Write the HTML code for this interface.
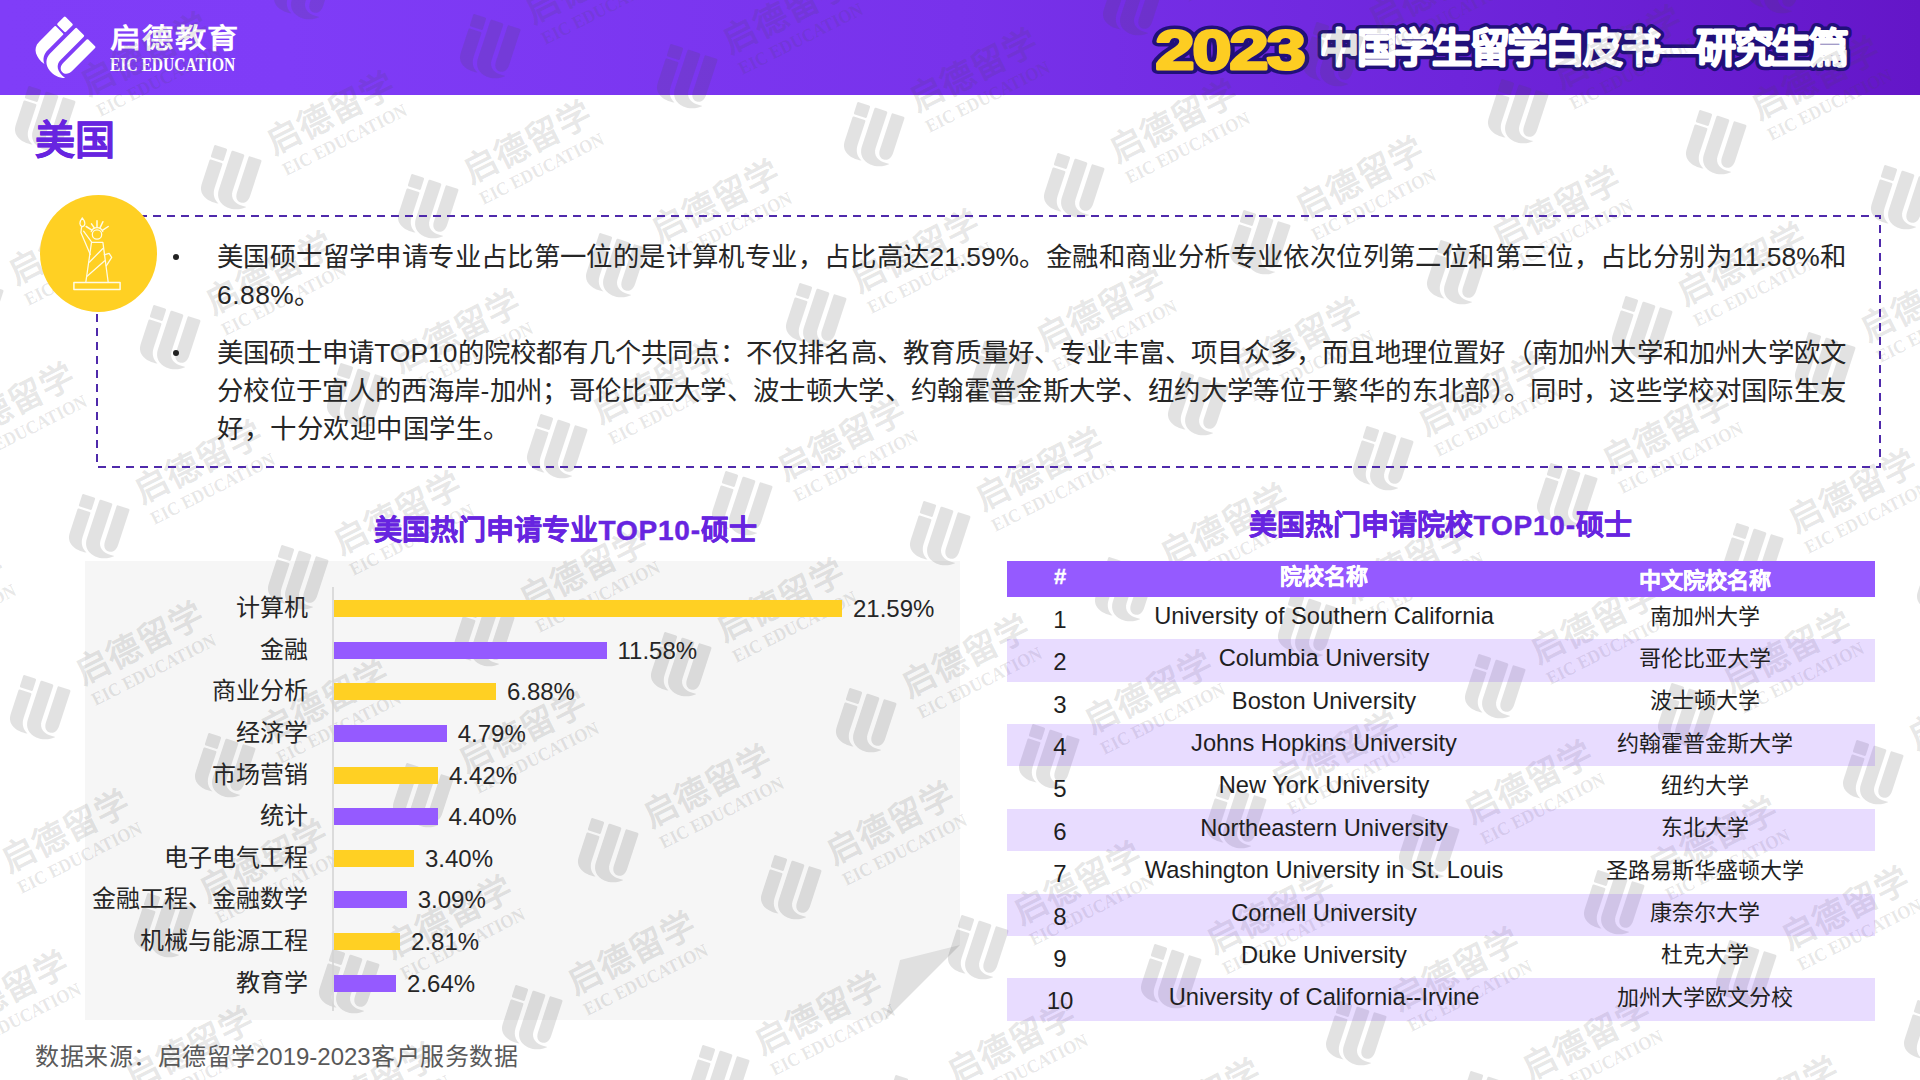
<!DOCTYPE html>
<html lang="zh-CN"><head><meta charset="utf-8"><title>2023中国学生留学白皮书—研究生篇 · 美国</title>
<style>
html,body{margin:0;padding:0}
body{width:1920px;height:1080px;position:relative;overflow:hidden;background:#fff;
 font-family:"Liberation Sans",sans-serif;color:#262626;-webkit-font-smoothing:antialiased}
.abs{position:absolute;white-space:nowrap}
.j{position:absolute;white-space:nowrap;text-align:justify;text-align-last:justify}
#hdr{position:absolute;left:0;top:0;width:1920px;height:95px;
 background:linear-gradient(90deg,#803df8 0%,#7f3cf7 15%,#7832eb 50%,#6e25db 76%,#6416c8 100%)}
#brand-cn{left:110px;top:19.3px;width:110.8px;font-size:27px;line-height:40px;font-weight:bold;color:#fff;transform:scaleX(1.155);transform-origin:0 50%}
#brand-en{left:110px;top:53.5px;font-family:"Liberation Serif",serif;font-size:18.6px;line-height:22px;font-weight:bold;color:#fff;transform:scaleX(.835);transform-origin:0 50%}
#h1{left:35px;top:115px;width:80px;font-size:40px;line-height:50px;font-weight:bold;color:#6724e0;-webkit-text-stroke:.4px #6724e0}
#box{position:absolute;left:96px;top:215px;width:1784px;height:252px}
#circle{position:absolute;left:40px;top:195px;width:117px;height:117px;border-radius:50%;background:#ffd023}
.ln{position:absolute;left:217px;width:1629px;height:38px;font-size:26.4px;line-height:38px;color:#262626;white-space:nowrap;letter-spacing:.5px}
.jl{text-align:justify;text-align-last:justify;letter-spacing:0}
.bul{position:absolute;left:173px;width:6px;height:6px;border-radius:50%;background:#222}
.ttl b{font-weight:bold;letter-spacing:.8px}
.ttl{width:383px;font-size:28px;line-height:34px;font-weight:bold;color:#6724e0;-webkit-text-stroke:.45px #6724e0}
.cat{font-size:24px;line-height:30px;color:#262626}
.bar{position:absolute;left:334px;height:17px}
.val{position:absolute;font-size:24px;line-height:30px;white-space:nowrap;color:#262626}
.row{position:absolute;left:1007px;width:868px;height:42.4px}
.c{position:absolute;font-size:24px;line-height:30px;white-space:nowrap;text-align:center;color:#1f1f1f}
.c.en{font-size:23.7px}
.cn{font-size:22px;line-height:30px;color:#1f1f1f}
.th{font-size:22px;line-height:28px;font-weight:bold;color:#fff;-webkit-text-stroke:.4px #fff}
#src{left:35px;top:1042px;width:483px;font-size:24px;line-height:30px;color:#595959}
#wm{position:absolute;left:0;top:0;width:1920px;height:1080px;overflow:hidden;pointer-events:none}
.u{position:absolute;width:0;height:0;transform:rotate(-26.8deg);transform-origin:0 0;color:rgba(72,72,72,.16)}
.u svg{position:absolute;overflow:visible}
.u .a,.u .b{color:rgba(72,72,72,.135)}
.u .a{left:48px;top:-5px;width:138.6px;font-size:34px;line-height:40px;font-weight:bold}
.u .b{position:absolute;left:50px;top:34px;font-family:"Liberation Serif",serif;font-size:18.5px;line-height:22px;font-weight:bold;white-space:nowrap;transform:scaleX(.915);transform-origin:0 50%}
</style></head><body>
<svg width="0" height="0" style="position:absolute"><defs><g id="eic"><rect x="0" y="0" width="12" height="11.5" rx="1.3"/><path d="M0,14.5 Q0,13.5 1,13.5 H11 Q12,13.5 12,14.5 V36 C12,42 14.5,46 19.5,48.4 C9,49.8 0,46 0,36.5 Z"/><path d="M16,1.2 Q16,0 17.2,0 H26.8 Q28,0 28,1.2 V34 C28,40.5 33,45 44,43.6 C39.5,48 33.5,49.8 28,49.2 C20.5,48.4 16,43.5 16,36.5 Z"/><path d="M32,1.2 Q32,0 33.2,0 H42.8 Q44,0 44,1.2 V33 C44,38.6 41.2,41.4 38,41.4 C34.4,41.4 32,38.6 32,34 Z"/></g></defs></svg>
<div id="hdr"></div>
<svg class="abs" style="left:0;top:0;overflow:visible" width="120" height="95"><g transform="translate(65,24.4) rotate(45) scale(1.0) translate(-6,-5.75)" fill="#fff"><use href="#eic"/></g></svg>
<div id="brand-cn" class="j">启德教育</div>
<div id="brand-en" class="abs">EIC EDUCATION</div>
<svg class="abs" style="left:1130px;top:0;overflow:visible" width="790" height="95"><g font-family="Liberation Sans, sans-serif" font-weight="bold" stroke-linejoin="round"><g transform="translate(25.5,69.4) scale(1.25,1)"><text x="0" y="0" font-size="56" fill="#21107a" stroke="#21107a" stroke-width="10" letter-spacing="-1.5">2023</text><text x="0" y="0" font-size="56" fill="#fdcd22" stroke="#fdcd22" stroke-width="3" letter-spacing="-1.5">2023</text></g><text x="189" y="61.6" font-size="40" textLength="530" lengthAdjust="spacing" fill="#21107a" stroke="#21107a" stroke-width="9">中国学生留学白皮书—研究生篇</text><text x="189" y="61.6" font-size="40" textLength="530" lengthAdjust="spacing" fill="#fff" stroke="#fff" stroke-width="2">中国学生留学白皮书—研究生篇</text></g></svg>
<div id="wm">
<div class="u" style="left:33.1px;top:93.5px"><svg width="1" height="1"><g transform="rotate(45) scale(1.13) translate(-6,-5.75)" fill="currentColor"><use href="#eic"/></g></svg><div class="a j">启德留学</div><div class="b">EIC EDUCATION</div></div>
<div class="u" style="left:291.7px;top:-37.1px"><svg width="1" height="1"><g transform="rotate(45) scale(1.13) translate(-6,-5.75)" fill="currentColor"><use href="#eic"/></g></svg><div class="a j">启德留学</div><div class="b">EIC EDUCATION</div></div>
<div class="u" style="left:-39.3px;top:283.1px"><svg width="1" height="1"><g transform="rotate(45) scale(1.13) translate(-6,-5.75)" fill="currentColor"><use href="#eic"/></g></svg><div class="a j">启德留学</div><div class="b">EIC EDUCATION</div></div>
<div class="u" style="left:219.3px;top:152.5px"><svg width="1" height="1"><g transform="rotate(45) scale(1.13) translate(-6,-5.75)" fill="currentColor"><use href="#eic"/></g></svg><div class="a j">启德留学</div><div class="b">EIC EDUCATION</div></div>
<div class="u" style="left:477.9px;top:21.9px"><svg width="1" height="1"><g transform="rotate(45) scale(1.13) translate(-6,-5.75)" fill="currentColor"><use href="#eic"/></g></svg><div class="a j">启德留学</div><div class="b">EIC EDUCATION</div></div>
<div class="u" style="left:-100.8px;top:443.6px"><svg width="1" height="1"><g transform="rotate(45) scale(1.13) translate(-6,-5.75)" fill="currentColor"><use href="#eic"/></g></svg><div class="a j">启德留学</div><div class="b">EIC EDUCATION</div></div>
<div class="u" style="left:157.8px;top:313.0px"><svg width="1" height="1"><g transform="rotate(45) scale(1.13) translate(-6,-5.75)" fill="currentColor"><use href="#eic"/></g></svg><div class="a j">启德留学</div><div class="b">EIC EDUCATION</div></div>
<div class="u" style="left:416.4px;top:182.3px"><svg width="1" height="1"><g transform="rotate(45) scale(1.13) translate(-6,-5.75)" fill="currentColor"><use href="#eic"/></g></svg><div class="a j">启德留学</div><div class="b">EIC EDUCATION</div></div>
<div class="u" style="left:675.1px;top:51.7px"><svg width="1" height="1"><g transform="rotate(45) scale(1.13) translate(-6,-5.75)" fill="currentColor"><use href="#eic"/></g></svg><div class="a j">启德留学</div><div class="b">EIC EDUCATION</div></div>
<div class="u" style="left:-172.1px;top:632.5px"><svg width="1" height="1"><g transform="rotate(45) scale(1.13) translate(-6,-5.75)" fill="currentColor"><use href="#eic"/></g></svg><div class="a j">启德留学</div><div class="b">EIC EDUCATION</div></div>
<div class="u" style="left:86.5px;top:501.9px"><svg width="1" height="1"><g transform="rotate(45) scale(1.13) translate(-6,-5.75)" fill="currentColor"><use href="#eic"/></g></svg><div class="a j">启德留学</div><div class="b">EIC EDUCATION</div></div>
<div class="u" style="left:345.2px;top:371.3px"><svg width="1" height="1"><g transform="rotate(45) scale(1.13) translate(-6,-5.75)" fill="currentColor"><use href="#eic"/></g></svg><div class="a j">启德留学</div><div class="b">EIC EDUCATION</div></div>
<div class="u" style="left:603.8px;top:240.6px"><svg width="1" height="1"><g transform="rotate(45) scale(1.13) translate(-6,-5.75)" fill="currentColor"><use href="#eic"/></g></svg><div class="a j">启德留学</div><div class="b">EIC EDUCATION</div></div>
<div class="u" style="left:862.4px;top:110.0px"><svg width="1" height="1"><g transform="rotate(45) scale(1.13) translate(-6,-5.75)" fill="currentColor"><use href="#eic"/></g></svg><div class="a j">启德留学</div><div class="b">EIC EDUCATION</div></div>
<div class="u" style="left:1121.0px;top:-20.7px"><svg width="1" height="1"><g transform="rotate(45) scale(1.13) translate(-6,-5.75)" fill="currentColor"><use href="#eic"/></g></svg><div class="a j">启德留学</div><div class="b">EIC EDUCATION</div></div>
<div class="u" style="left:27.8px;top:683.3px"><svg width="1" height="1"><g transform="rotate(45) scale(1.13) translate(-6,-5.75)" fill="currentColor"><use href="#eic"/></g></svg><div class="a j">启德留学</div><div class="b">EIC EDUCATION</div></div>
<div class="u" style="left:286.4px;top:552.6px"><svg width="1" height="1"><g transform="rotate(45) scale(1.13) translate(-6,-5.75)" fill="currentColor"><use href="#eic"/></g></svg><div class="a j">启德留学</div><div class="b">EIC EDUCATION</div></div>
<div class="u" style="left:545.1px;top:422.0px"><svg width="1" height="1"><g transform="rotate(45) scale(1.13) translate(-6,-5.75)" fill="currentColor"><use href="#eic"/></g></svg><div class="a j">启德留学</div><div class="b">EIC EDUCATION</div></div>
<div class="u" style="left:803.7px;top:291.3px"><svg width="1" height="1"><g transform="rotate(45) scale(1.13) translate(-6,-5.75)" fill="currentColor"><use href="#eic"/></g></svg><div class="a j">启德留学</div><div class="b">EIC EDUCATION</div></div>
<div class="u" style="left:1062.3px;top:160.7px"><svg width="1" height="1"><g transform="rotate(45) scale(1.13) translate(-6,-5.75)" fill="currentColor"><use href="#eic"/></g></svg><div class="a j">启德留学</div><div class="b">EIC EDUCATION</div></div>
<div class="u" style="left:1320.9px;top:30.0px"><svg width="1" height="1"><g transform="rotate(45) scale(1.13) translate(-6,-5.75)" fill="currentColor"><use href="#eic"/></g></svg><div class="a j">启德留学</div><div class="b">EIC EDUCATION</div></div>
<div class="u" style="left:-45.6px;top:871.1px"><svg width="1" height="1"><g transform="rotate(45) scale(1.13) translate(-6,-5.75)" fill="currentColor"><use href="#eic"/></g></svg><div class="a j">启德留学</div><div class="b">EIC EDUCATION</div></div>
<div class="u" style="left:213.0px;top:740.5px"><svg width="1" height="1"><g transform="rotate(45) scale(1.13) translate(-6,-5.75)" fill="currentColor"><use href="#eic"/></g></svg><div class="a j">启德留学</div><div class="b">EIC EDUCATION</div></div>
<div class="u" style="left:471.6px;top:609.9px"><svg width="1" height="1"><g transform="rotate(45) scale(1.13) translate(-6,-5.75)" fill="currentColor"><use href="#eic"/></g></svg><div class="a j">启德留学</div><div class="b">EIC EDUCATION</div></div>
<div class="u" style="left:730.3px;top:479.2px"><svg width="1" height="1"><g transform="rotate(45) scale(1.13) translate(-6,-5.75)" fill="currentColor"><use href="#eic"/></g></svg><div class="a j">启德留学</div><div class="b">EIC EDUCATION</div></div>
<div class="u" style="left:988.9px;top:348.6px"><svg width="1" height="1"><g transform="rotate(45) scale(1.13) translate(-6,-5.75)" fill="currentColor"><use href="#eic"/></g></svg><div class="a j">启德留学</div><div class="b">EIC EDUCATION</div></div>
<div class="u" style="left:1247.5px;top:217.9px"><svg width="1" height="1"><g transform="rotate(45) scale(1.13) translate(-6,-5.75)" fill="currentColor"><use href="#eic"/></g></svg><div class="a j">启德留学</div><div class="b">EIC EDUCATION</div></div>
<div class="u" style="left:1506.1px;top:87.3px"><svg width="1" height="1"><g transform="rotate(45) scale(1.13) translate(-6,-5.75)" fill="currentColor"><use href="#eic"/></g></svg><div class="a j">启德留学</div><div class="b">EIC EDUCATION</div></div>
<div class="u" style="left:1764.8px;top:-43.3px"><svg width="1" height="1"><g transform="rotate(45) scale(1.13) translate(-6,-5.75)" fill="currentColor"><use href="#eic"/></g></svg><div class="a j">启德留学</div><div class="b">EIC EDUCATION</div></div>
<div class="u" style="left:-106.8px;top:1032.0px"><svg width="1" height="1"><g transform="rotate(45) scale(1.13) translate(-6,-5.75)" fill="currentColor"><use href="#eic"/></g></svg><div class="a j">启德留学</div><div class="b">EIC EDUCATION</div></div>
<div class="u" style="left:151.9px;top:901.3px"><svg width="1" height="1"><g transform="rotate(45) scale(1.13) translate(-6,-5.75)" fill="currentColor"><use href="#eic"/></g></svg><div class="a j">启德留学</div><div class="b">EIC EDUCATION</div></div>
<div class="u" style="left:410.5px;top:770.7px"><svg width="1" height="1"><g transform="rotate(45) scale(1.13) translate(-6,-5.75)" fill="currentColor"><use href="#eic"/></g></svg><div class="a j">启德留学</div><div class="b">EIC EDUCATION</div></div>
<div class="u" style="left:669.1px;top:640.1px"><svg width="1" height="1"><g transform="rotate(45) scale(1.13) translate(-6,-5.75)" fill="currentColor"><use href="#eic"/></g></svg><div class="a j">启德留学</div><div class="b">EIC EDUCATION</div></div>
<div class="u" style="left:927.7px;top:509.4px"><svg width="1" height="1"><g transform="rotate(45) scale(1.13) translate(-6,-5.75)" fill="currentColor"><use href="#eic"/></g></svg><div class="a j">启德留学</div><div class="b">EIC EDUCATION</div></div>
<div class="u" style="left:1186.4px;top:378.8px"><svg width="1" height="1"><g transform="rotate(45) scale(1.13) translate(-6,-5.75)" fill="currentColor"><use href="#eic"/></g></svg><div class="a j">启德留学</div><div class="b">EIC EDUCATION</div></div>
<div class="u" style="left:1445.0px;top:248.1px"><svg width="1" height="1"><g transform="rotate(45) scale(1.13) translate(-6,-5.75)" fill="currentColor"><use href="#eic"/></g></svg><div class="a j">启德留学</div><div class="b">EIC EDUCATION</div></div>
<div class="u" style="left:1703.6px;top:117.5px"><svg width="1" height="1"><g transform="rotate(45) scale(1.13) translate(-6,-5.75)" fill="currentColor"><use href="#eic"/></g></svg><div class="a j">启德留学</div><div class="b">EIC EDUCATION</div></div>
<div class="u" style="left:78.3px;top:1087.5px"><svg width="1" height="1"><g transform="rotate(45) scale(1.13) translate(-6,-5.75)" fill="currentColor"><use href="#eic"/></g></svg><div class="a j">启德留学</div><div class="b">EIC EDUCATION</div></div>
<div class="u" style="left:336.9px;top:956.9px"><svg width="1" height="1"><g transform="rotate(45) scale(1.13) translate(-6,-5.75)" fill="currentColor"><use href="#eic"/></g></svg><div class="a j">启德留学</div><div class="b">EIC EDUCATION</div></div>
<div class="u" style="left:595.5px;top:826.3px"><svg width="1" height="1"><g transform="rotate(45) scale(1.13) translate(-6,-5.75)" fill="currentColor"><use href="#eic"/></g></svg><div class="a j">启德留学</div><div class="b">EIC EDUCATION</div></div>
<div class="u" style="left:854.1px;top:695.6px"><svg width="1" height="1"><g transform="rotate(45) scale(1.13) translate(-6,-5.75)" fill="currentColor"><use href="#eic"/></g></svg><div class="a j">启德留学</div><div class="b">EIC EDUCATION</div></div>
<div class="u" style="left:1112.8px;top:565.0px"><svg width="1" height="1"><g transform="rotate(45) scale(1.13) translate(-6,-5.75)" fill="currentColor"><use href="#eic"/></g></svg><div class="a j">启德留学</div><div class="b">EIC EDUCATION</div></div>
<div class="u" style="left:1371.4px;top:434.3px"><svg width="1" height="1"><g transform="rotate(45) scale(1.13) translate(-6,-5.75)" fill="currentColor"><use href="#eic"/></g></svg><div class="a j">启德留学</div><div class="b">EIC EDUCATION</div></div>
<div class="u" style="left:1630.0px;top:303.7px"><svg width="1" height="1"><g transform="rotate(45) scale(1.13) translate(-6,-5.75)" fill="currentColor"><use href="#eic"/></g></svg><div class="a j">启德留学</div><div class="b">EIC EDUCATION</div></div>
<div class="u" style="left:1888.6px;top:173.0px"><svg width="1" height="1"><g transform="rotate(45) scale(1.13) translate(-6,-5.75)" fill="currentColor"><use href="#eic"/></g></svg><div class="a j">启德留学</div><div class="b">EIC EDUCATION</div></div>
<div class="u" style="left:261.5px;top:1123.8px"><svg width="1" height="1"><g transform="rotate(45) scale(1.13) translate(-6,-5.75)" fill="currentColor"><use href="#eic"/></g></svg><div class="a j">启德留学</div><div class="b">EIC EDUCATION</div></div>
<div class="u" style="left:520.2px;top:993.1px"><svg width="1" height="1"><g transform="rotate(45) scale(1.13) translate(-6,-5.75)" fill="currentColor"><use href="#eic"/></g></svg><div class="a j">启德留学</div><div class="b">EIC EDUCATION</div></div>
<div class="u" style="left:778.8px;top:862.5px"><svg width="1" height="1"><g transform="rotate(45) scale(1.13) translate(-6,-5.75)" fill="currentColor"><use href="#eic"/></g></svg><div class="a j">启德留学</div><div class="b">EIC EDUCATION</div></div>
<div class="u" style="left:1037.4px;top:731.9px"><svg width="1" height="1"><g transform="rotate(45) scale(1.13) translate(-6,-5.75)" fill="currentColor"><use href="#eic"/></g></svg><div class="a j">启德留学</div><div class="b">EIC EDUCATION</div></div>
<div class="u" style="left:1296.0px;top:601.2px"><svg width="1" height="1"><g transform="rotate(45) scale(1.13) translate(-6,-5.75)" fill="currentColor"><use href="#eic"/></g></svg><div class="a j">启德留学</div><div class="b">EIC EDUCATION</div></div>
<div class="u" style="left:1554.7px;top:470.6px"><svg width="1" height="1"><g transform="rotate(45) scale(1.13) translate(-6,-5.75)" fill="currentColor"><use href="#eic"/></g></svg><div class="a j">启德留学</div><div class="b">EIC EDUCATION</div></div>
<div class="u" style="left:1813.3px;top:339.9px"><svg width="1" height="1"><g transform="rotate(45) scale(1.13) translate(-6,-5.75)" fill="currentColor"><use href="#eic"/></g></svg><div class="a j">启德留学</div><div class="b">EIC EDUCATION</div></div>
<div class="u" style="left:706.9px;top:1053.4px"><svg width="1" height="1"><g transform="rotate(45) scale(1.13) translate(-6,-5.75)" fill="currentColor"><use href="#eic"/></g></svg><div class="a j">启德留学</div><div class="b">EIC EDUCATION</div></div>
<div class="u" style="left:965.5px;top:922.8px"><svg width="1" height="1"><g transform="rotate(45) scale(1.13) translate(-6,-5.75)" fill="currentColor"><use href="#eic"/></g></svg><div class="a j">启德留学</div><div class="b">EIC EDUCATION</div></div>
<div class="u" style="left:1224.2px;top:792.1px"><svg width="1" height="1"><g transform="rotate(45) scale(1.13) translate(-6,-5.75)" fill="currentColor"><use href="#eic"/></g></svg><div class="a j">启德留学</div><div class="b">EIC EDUCATION</div></div>
<div class="u" style="left:1482.8px;top:661.5px"><svg width="1" height="1"><g transform="rotate(45) scale(1.13) translate(-6,-5.75)" fill="currentColor"><use href="#eic"/></g></svg><div class="a j">启德留学</div><div class="b">EIC EDUCATION</div></div>
<div class="u" style="left:1741.4px;top:530.9px"><svg width="1" height="1"><g transform="rotate(45) scale(1.13) translate(-6,-5.75)" fill="currentColor"><use href="#eic"/></g></svg><div class="a j">启德留学</div><div class="b">EIC EDUCATION</div></div>
<div class="u" style="left:899.9px;top:1083.1px"><svg width="1" height="1"><g transform="rotate(45) scale(1.13) translate(-6,-5.75)" fill="currentColor"><use href="#eic"/></g></svg><div class="a j">启德留学</div><div class="b">EIC EDUCATION</div></div>
<div class="u" style="left:1158.6px;top:952.4px"><svg width="1" height="1"><g transform="rotate(45) scale(1.13) translate(-6,-5.75)" fill="currentColor"><use href="#eic"/></g></svg><div class="a j">启德留学</div><div class="b">EIC EDUCATION</div></div>
<div class="u" style="left:1417.2px;top:821.8px"><svg width="1" height="1"><g transform="rotate(45) scale(1.13) translate(-6,-5.75)" fill="currentColor"><use href="#eic"/></g></svg><div class="a j">启德留学</div><div class="b">EIC EDUCATION</div></div>
<div class="u" style="left:1675.8px;top:691.1px"><svg width="1" height="1"><g transform="rotate(45) scale(1.13) translate(-6,-5.75)" fill="currentColor"><use href="#eic"/></g></svg><div class="a j">启德留学</div><div class="b">EIC EDUCATION</div></div>
<div class="u" style="left:1934.5px;top:560.5px"><svg width="1" height="1"><g transform="rotate(45) scale(1.13) translate(-6,-5.75)" fill="currentColor"><use href="#eic"/></g></svg><div class="a j">启德留学</div><div class="b">EIC EDUCATION</div></div>
<div class="u" style="left:1084.9px;top:1139.6px"><svg width="1" height="1"><g transform="rotate(45) scale(1.13) translate(-6,-5.75)" fill="currentColor"><use href="#eic"/></g></svg><div class="a j">启德留学</div><div class="b">EIC EDUCATION</div></div>
<div class="u" style="left:1343.6px;top:1009.0px"><svg width="1" height="1"><g transform="rotate(45) scale(1.13) translate(-6,-5.75)" fill="currentColor"><use href="#eic"/></g></svg><div class="a j">启德留学</div><div class="b">EIC EDUCATION</div></div>
<div class="u" style="left:1602.2px;top:878.4px"><svg width="1" height="1"><g transform="rotate(45) scale(1.13) translate(-6,-5.75)" fill="currentColor"><use href="#eic"/></g></svg><div class="a j">启德留学</div><div class="b">EIC EDUCATION</div></div>
<div class="u" style="left:1860.8px;top:747.7px"><svg width="1" height="1"><g transform="rotate(45) scale(1.13) translate(-6,-5.75)" fill="currentColor"><use href="#eic"/></g></svg><div class="a j">启德留学</div><div class="b">EIC EDUCATION</div></div>
<div class="u" style="left:1474.9px;top:1078.9px"><svg width="1" height="1"><g transform="rotate(45) scale(1.13) translate(-6,-5.75)" fill="currentColor"><use href="#eic"/></g></svg><div class="a j">启德留学</div><div class="b">EIC EDUCATION</div></div>
<div class="u" style="left:1733.5px;top:948.3px"><svg width="1" height="1"><g transform="rotate(45) scale(1.13) translate(-6,-5.75)" fill="currentColor"><use href="#eic"/></g></svg><div class="a j">启德留学</div><div class="b">EIC EDUCATION</div></div>
<div class="u" style="left:1663.2px;top:1138.4px"><svg width="1" height="1"><g transform="rotate(45) scale(1.13) translate(-6,-5.75)" fill="currentColor"><use href="#eic"/></g></svg><div class="a j">启德留学</div><div class="b">EIC EDUCATION</div></div>
<div class="u" style="left:1921.8px;top:1007.7px"><svg width="1" height="1"><g transform="rotate(45) scale(1.13) translate(-6,-5.75)" fill="currentColor"><use href="#eic"/></g></svg><div class="a j">启德留学</div><div class="b">EIC EDUCATION</div></div>
</div>
<div id="h1" class="j">美国</div>
<svg id="box" width="1784" height="252" style="overflow:visible"><rect x="1" y="1" width="1783" height="251" fill="none" stroke="#4f2aab" stroke-width="2" stroke-dasharray="8 6"/></svg>
<div id="circle"></div>
<svg class="abs" style="left:70px;top:214px;overflow:visible" width="56" height="80" fill="none" stroke="#fffbe6" stroke-width="1.25" stroke-linejoin="round" stroke-linecap="round"><rect x="3.9" y="68.6" width="46.2" height="6.9" stroke-width="1.5"/><path d="M15.8,68.4 L21.5,28.4 H32.9 L38.2,68.4"/><circle cx="27" cy="20.5" r="4.7"/><path d="M21.2,17.6 A6.2,6.2 0 0 1 32.8,17.6"/><path d="M21.9,16.1 L16.2,12.5 M24.1,13.6 L21.5,9.9 M27,12.9 V6.8 M30.1,13.6 L32.9,7.7 M32.4,16.4 L38.2,12.5" stroke-width="1.5"/><path d="M11.6,12.8 L10.9,18.6 L20.3,40.4 M13.6,17.2 L21.5,27.8"/><path d="M12.3,12.6 C9.2,11.6 9,8 12.3,3.8 C15.8,8 15.6,11.6 12.3,12.6 Z"/><path d="M19.3,48.2 L32.9,34.5 M17.1,62.2 L34.7,46.8"/><path d="M34.2,40.8 L39.1,39.4 L41.7,43.3 L36.3,51.8"/></svg>
<div class="bul" style="top:254px"></div>
<div class="bul" style="top:350px"></div>
<div class="ln jl" style="top:238px">美国硕士留学申请专业占比第一位的是计算机专业，占比高达21.59%。金融和商业分析专业依次位列第二位和第三位，占比分别为11.58%和</div>
<div class="ln" style="top:276px">6.88%。</div>
<div class="ln jl" style="top:334px">美国硕士申请TOP10的院校都有几个共同点：不仅排名高、教育质量好、专业丰富、项目众多，而且地理位置好（南加州大学和加州大学欧文</div>
<div class="ln jl" style="top:372px">分校位于宜人的西海岸-加州；哥伦比亚大学、波士顿大学、约翰霍普金斯大学、纽约大学等位于繁华的东北部）。同时，这些学校对国际生友</div>
<div class="ln jl" style="top:410px;width:291.5px">好，十分欢迎中国学生。</div>
<div class="ttl j" style="left:374px;top:513.5px">美国热门申请专业<b>TOP10-</b>硕士</div>
<svg class="abs" style="left:85px;top:561px" width="876" height="460"><path d="M0,0 H875 V384 L800,459 H0 Z" fill="rgba(0,0,0,.035)"/><path d="M800,459 L815,399 L875,384 Z" fill="rgba(0,0,0,.085)"/><rect x="247.2" y="26" width="1.6" height="424" fill="#d4d4d4"/></svg>
<div class="cat j" style="left:236px;width:72px;top:592.9px">计算机</div>
<div class="bar" style="top:599.9px;width:508.0px;background:#ffd023"></div>
<div class="val" style="left:853.0px;top:593.9px">21.59%</div>
<div class="cat j" style="left:260px;width:48px;top:634.5px">金融</div>
<div class="bar" style="top:641.5px;width:272.5px;background:#955aff"></div>
<div class="val" style="left:617.5px;top:635.5px">11.58%</div>
<div class="cat j" style="left:212px;width:96px;top:676.1px">商业分析</div>
<div class="bar" style="top:683.1px;width:161.9px;background:#ffd023"></div>
<div class="val" style="left:506.9px;top:677.1px">6.88%</div>
<div class="cat j" style="left:236px;width:72px;top:717.8px">经济学</div>
<div class="bar" style="top:724.8px;width:112.7px;background:#955aff"></div>
<div class="val" style="left:457.7px;top:718.8px">4.79%</div>
<div class="cat j" style="left:212px;width:96px;top:759.5px">市场营销</div>
<div class="bar" style="top:766.5px;width:104.0px;background:#ffd023"></div>
<div class="val" style="left:449.0px;top:760.5px">4.42%</div>
<div class="cat j" style="left:260px;width:48px;top:801.1px">统计</div>
<div class="bar" style="top:808.1px;width:103.5px;background:#955aff"></div>
<div class="val" style="left:448.5px;top:802.1px">4.40%</div>
<div class="cat j" style="left:164px;width:144px;top:842.8px">电子电气工程</div>
<div class="bar" style="top:849.8px;width:80.0px;background:#ffd023"></div>
<div class="val" style="left:425.0px;top:843.8px">3.40%</div>
<div class="cat j" style="left:92px;width:216px;top:884.4px">金融工程、金融数学</div>
<div class="bar" style="top:891.4px;width:72.7px;background:#955aff"></div>
<div class="val" style="left:417.7px;top:885.4px">3.09%</div>
<div class="cat j" style="left:140px;width:168px;top:926.0px">机械与能源工程</div>
<div class="bar" style="top:933.0px;width:66.1px;background:#ffd023"></div>
<div class="val" style="left:411.1px;top:927.0px">2.81%</div>
<div class="cat j" style="left:236px;width:72px;top:967.7px">教育学</div>
<div class="bar" style="top:974.7px;width:62.1px;background:#955aff"></div>
<div class="val" style="left:407.1px;top:968.7px">2.64%</div>
<div class="ttl j" style="left:1249px;top:508.5px">美国热门申请院校<b>TOP10-</b>硕士</div>
<div class="row" style="top:561px;height:36px;background:#955aff"></div>
<div class="th abs" style="left:1010px;width:100px;top:563px;text-align:center">#</div>
<div class="th j" style="left:1279.7px;width:88px;top:563px">院校名称</div>
<div class="th j" style="left:1638.5px;width:132px;top:567px">中文院校名称</div>
<div class="c" style="left:1010px;width:100px;top:605.0px">1</div>
<div class="c en" style="left:1074px;width:500px;top:601.0px">University of Southern California</div>
<div class="cn j" style="left:1649.5px;width:110px;top:601.5px">南加州大学</div>
<div class="row" style="top:639.4px;background:rgba(140,82,255,.2)"></div>
<div class="c" style="left:1010px;width:100px;top:647.4px">2</div>
<div class="c en" style="left:1074px;width:500px;top:643.4px">Columbia University</div>
<div class="cn j" style="left:1638.5px;width:132px;top:643.9px">哥伦比亚大学</div>
<div class="c" style="left:1010px;width:100px;top:689.7px">3</div>
<div class="c en" style="left:1074px;width:500px;top:685.7px">Boston University</div>
<div class="cn j" style="left:1649.5px;width:110px;top:686.2px">波士顿大学</div>
<div class="row" style="top:724.0px;background:rgba(140,82,255,.2)"></div>
<div class="c" style="left:1010px;width:100px;top:732.0px">4</div>
<div class="c en" style="left:1074px;width:500px;top:728.0px">Johns Hopkins University</div>
<div class="cn j" style="left:1616.5px;width:176px;top:728.5px">约翰霍普金斯大学</div>
<div class="c" style="left:1010px;width:100px;top:774.4px">5</div>
<div class="c en" style="left:1074px;width:500px;top:770.4px">New York University</div>
<div class="cn j" style="left:1660.5px;width:88px;top:770.9px">纽约大学</div>
<div class="row" style="top:808.8px;background:rgba(140,82,255,.2)"></div>
<div class="c" style="left:1010px;width:100px;top:816.8px">6</div>
<div class="c en" style="left:1074px;width:500px;top:812.8px">Northeastern University</div>
<div class="cn j" style="left:1660.5px;width:88px;top:813.2px">东北大学</div>
<div class="c" style="left:1010px;width:100px;top:859.1px">7</div>
<div class="c en" style="left:1074px;width:500px;top:855.1px">Washington University in St. Louis</div>
<div class="cn j" style="left:1605.5px;width:198px;top:855.6px">圣路易斯华盛顿大学</div>
<div class="row" style="top:893.5px;background:rgba(140,82,255,.2)"></div>
<div class="c" style="left:1010px;width:100px;top:901.5px">8</div>
<div class="c en" style="left:1074px;width:500px;top:897.5px">Cornell University</div>
<div class="cn j" style="left:1649.5px;width:110px;top:898.0px">康奈尔大学</div>
<div class="c" style="left:1010px;width:100px;top:943.8px">9</div>
<div class="c en" style="left:1074px;width:500px;top:939.8px">Duke University</div>
<div class="cn j" style="left:1660.5px;width:88px;top:940.3px">杜克大学</div>
<div class="row" style="top:978.2px;background:rgba(140,82,255,.2)"></div>
<div class="c" style="left:1010px;width:100px;top:986.2px">10</div>
<div class="c en" style="left:1074px;width:500px;top:982.2px">University of California--Irvine</div>
<div class="cn j" style="left:1616.5px;width:176px;top:982.7px">加州大学欧文分校</div>
<div id="src" class="j">数据来源：启德留学2019-2023客户服务数据</div>
</body></html>
